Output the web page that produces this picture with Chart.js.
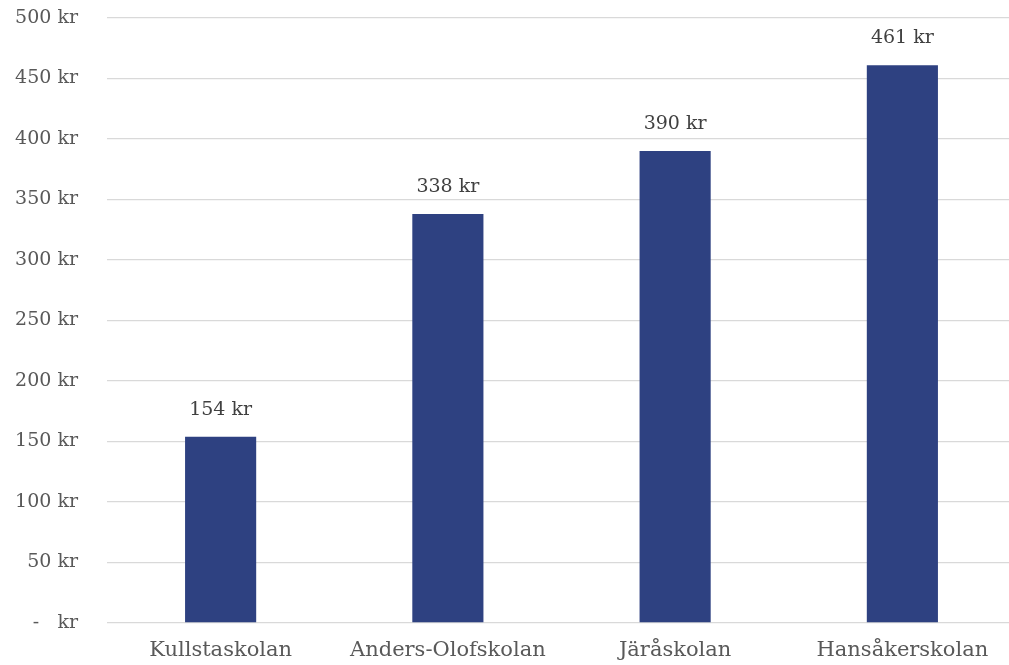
<!DOCTYPE html>
<html>
<head>
<meta charset="utf-8">
<script src="https://cdn.jsdelivr.net/npm/chart.js@4"></script>
<style>
  html, body { margin: 0; padding: 0; background: #fff; overflow: hidden; }
  #wrap { position: absolute; left: 0; top: 0; width: 1016px; height: 665px; }
</style>
</head>
<body>
<div id="wrap"><canvas id="myChart" width="1016" height="665"></canvas></div>
<script>
// skolor och kostnad per elev
var skolor = ['Kullstaskolan', 'Anders-Olofskolan', 'Järåskolan', 'Hansåkerskolan'];
var kostnad = [154, 338, 390, 461];
var yTicks = [0, 50, 100, 150, 200, 250, 300, 350, 400, 450, 500];

var fontFam = '"DejaVu Serif", "Liberation Serif", serif';

// skriver ut värdet ovanför varje stapel
const etiketter = {
  id: 'etiketter',
  afterDatasetsDraw(chart) {
    const ctx = chart.ctx;
    const meta = chart.getDatasetMeta(0);
    ctx.save();
    ctx.font = '19px ' + fontFam;
    ctx.fillStyle = '#404040';
    ctx.textAlign = 'center';
    ctx.textBaseline = 'middle';
    meta.data.forEach((bar, i) => {
      ctx.fillText(kostnad[i] + ' kr', bar.x, bar.y - 27);
    });
    ctx.restore();
  }
};

const ctx = document.getElementById('myChart');
new Chart(ctx, {
  type: 'bar',
  data: {
    labels: skolor,
    datasets: [{
      data: kostnad,
      backgroundColor: '#2E4181',
      borderWidth: 0,
      categoryPercentage: 1,
      barPercentage: 0.313
    }]
  },
  options: {
    responsive: false,
    animation: false,
    layout: { padding: { top: 18, left: 0, right: 0, bottom: 0 } },
    plugins: { legend: { display: false }, tooltip: { enabled: false } },
    scales: {
      x: {
        grid: { display: false, drawTicks: false },
        border: { display: false },
        ticks: { color: '#595959', font: { family: fontFam, size: 21 }, padding: 15, maxRotation: 0 },
        afterFit: function (s) { s.height = 42; }
      },
      y: {
        min: 0,
        max: 500,
        afterBuildTicks: function (s) { s.ticks = yTicks.map(v => ({ value: v })); },
        grid: { color: '#D9D9D9', lineWidth: 1.3, drawTicks: false },
        border: { display: false },
        ticks: {
          color: '#595959',
          font: { family: fontFam, size: 19 },
          padding: 29,
          callback: function (v) { return v === 0 ? '-   kr' : v + ' kr'; }
        },
        afterFit: function (s) { s.width = 107; s.paddingTop = 0; s.paddingBottom = 0; }
      }
    }
  },
  plugins: [etiketter]
});
</script>
</body>
</html>
